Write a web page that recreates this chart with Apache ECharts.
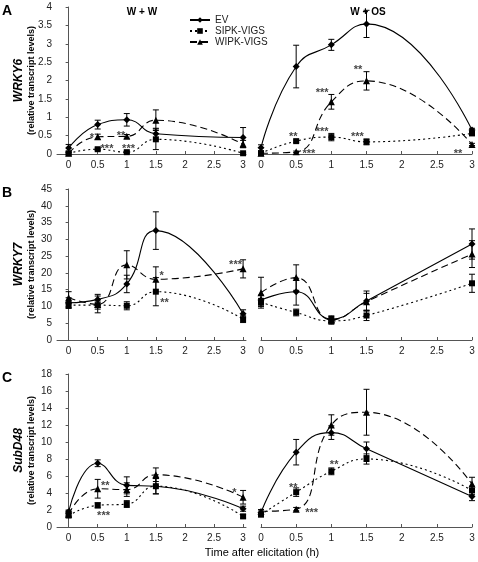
<!DOCTYPE html>
<html>
<head>
<meta charset="utf-8">
<script src="https://cdn.jsdelivr.net/npm/echarts@6/dist/echarts.min.js"></script>
<style>html,body{margin:0;padding:0;background:#fff}#c{width:478px;height:562px}</style>
</head>
<body>
<div id="c"></div>
<script>
// ---- data ----
const times = [0, 0.5, 1, 1.5, 3];
const xTicks = [0, 0.5, 1, 1.5, 2, 2.5, 3];
const seriesNames = ['EV', 'SIPK-VIGS', 'WIPK-VIGS'];
const genes = ['WRKY6', 'WRKY7', 'SubD48'];
const panelLetters = ['A', 'B', 'C'];
const treatments = ['W + W', 'W + OS'];
const yMax = [4, 45, 18];
const yStep = [0.5, 5, 2];

// WRKY6, W + W
const A_WW_EV = [0.16, 0.80, 0.93, 0.55, 0.45];
const A_WW_EV_err = [0.10, 0.12, 0.17, 0.15, 0.27];
const A_WW_SIPK = [0.02, 0.13, 0.05, 0.40, 0.02];
const A_WW_SIPK_err = [0.02, 0.03, 0.03, 0.28, 0.02];
const A_WW_WIPK = [0.02, 0.47, 0.48, 0.92, 0.27];
const A_WW_WIPK_err = [0.03, 0.07, 0.05, 0.28, 0.10];
const A_WW_sig = [['*', 0.40, 0.52], ['**', 0.90, 0.56], ['***', 0.66, 0.22], ['***', 1.03, 0.22]];
// WRKY6, W + OS
const A_OS_EV = [0.17, 2.38, 2.97, 3.54, 0.65];
const A_OS_EV_err = [0.08, 0.58, 0.15, 0.37, 0.05];
const A_OS_SIPK = [0.02, 0.35, 0.46, 0.33, 0.56];
const A_OS_SIPK_err = [0.02, 0.03, 0.10, 0.08, 0.05];
const A_OS_WIPK = [0.02, 0.06, 1.42, 1.99, 0.26];
const A_OS_WIPK_err = [0.02, 0.02, 0.20, 0.25, 0.03];
const A_OS_sig = [['**', 0.46, 0.54], ['***', 0.68, 0.08], ['***', 0.87, 1.74], ['***', 0.87, 0.67], ['**', 1.38, 2.38], ['***', 1.37, 0.54], ['**', 2.80, 0.09]];

// WRKY7, W + W
const B_WW_EV = [11.1, 12.1, 16.7, 32.6, 7.8];
const B_WW_EV_err = [1.5, 1.5, 2.6, 5.6, 1.2];
const B_WW_SIPK = [10.4, 10.4, 10.2, 14.4, 6.2];
const B_WW_SIPK_err = [1.0, 1.2, 1.2, 4.2, 1.0];
const B_WW_WIPK = [12.6, 10.6, 22.4, 18.1, 21.2];
const B_WW_WIPK_err = [1.8, 2.5, 4.2, 3.7, 2.7];
const B_WW_sig = [['*', 1.60, 19.9], ['**', 1.65, 11.9], ['***', 2.87, 23.4]];
// WRKY7, W + OS
const B_OS_EV = [11.9, 14.4, 6.2, 11.6, 28.6];
const B_OS_EV_err = [1.5, 4.0, 1.0, 3.0, 4.5];
const B_OS_SIPK = [11.2, 8.2, 5.7, 7.3, 16.9];
const B_OS_SIPK_err = [1.2, 1.0, 1.0, 1.5, 2.7];
const B_OS_WIPK = [14.1, 18.6, 6.0, 11.4, 25.6];
const B_OS_WIPK_err = [4.6, 3.8, 1.0, 2.5, 4.0];
const B_OS_sig = [];

// SubD48, W + W
const C_WW_EV = [1.8, 7.5, 4.9, 4.8, 2.15];
const C_WW_EV_err = [0.2, 0.4, 1.0, 0.9, 0.3];
const C_WW_SIPK = [1.35, 2.55, 2.7, 4.8, 1.25];
const C_WW_SIPK_err = [0.2, 0.3, 0.4, 0.9, 0.2];
const C_WW_WIPK = [1.5, 4.5, 4.4, 6.15, 3.5];
const C_WW_WIPK_err = [0.2, 1.1, 0.8, 0.8, 0.8];
const C_WW_sig = [['**', 0.63, 5.2], ['***', 0.60, 1.6], ['*', 2.85, 4.3]];
// SubD48, W + OS
const C_OS_EV = [1.7, 8.8, 11.1, 9.2, 3.6];
const C_OS_EV_err = [0.3, 1.5, 0.8, 0.8, 0.5];
const C_OS_SIPK = [1.45, 4.1, 6.55, 8.0, 4.3];
const C_OS_SIPK_err = [0.2, 0.5, 0.4, 0.6, 0.5];
const C_OS_WIPK = [1.85, 2.1, 12.0, 13.5, 5.05];
const C_OS_WIPK_err = [0.2, 0.2, 1.2, 2.7, 0.8];
const C_OS_sig = [['**', 0.46, 5.0], ['***', 0.72, 1.95], ['**', 1.04, 7.6]];

// ---- layout / style ----
const FONT = 'Liberation Sans, Arial, sans-serif';
const panels = [
  [[A_WW_EV, A_WW_EV_err, A_WW_SIPK, A_WW_SIPK_err, A_WW_WIPK, A_WW_WIPK_err, A_WW_sig],
   [A_OS_EV, A_OS_EV_err, A_OS_SIPK, A_OS_SIPK_err, A_OS_WIPK, A_OS_WIPK_err, A_OS_sig]],
  [[B_WW_EV, B_WW_EV_err, B_WW_SIPK, B_WW_SIPK_err, B_WW_WIPK, B_WW_WIPK_err, B_WW_sig],
   [B_OS_EV, B_OS_EV_err, B_OS_SIPK, B_OS_SIPK_err, B_OS_WIPK, B_OS_WIPK_err, B_OS_sig]],
  [[C_WW_EV, C_WW_EV_err, C_WW_SIPK, C_WW_SIPK_err, C_WW_WIPK, C_WW_WIPK_err, C_WW_sig],
   [C_OS_EV, C_OS_EV_err, C_OS_SIPK, C_OS_SIPK_err, C_OS_WIPK, C_OS_WIPK_err, C_OS_sig]]
];
const rowTop = [7, 189, 374];
const rowH = [147, 151, 153];
const colLeft = [57, 261];
const colW = [189, 211];
const colMin = [-0.2, 0];
const colMax = [3.05, 3];
const styles = [
  {symbol: 'diamond', size: 7, type: 'solid'},
  {symbol: 'rect', size: 6, type: [2, 3]},
  {symbol: 'triangle', size: 7, type: [7, 4]}
];

const grid = [], xAxis = [], yAxis = [], series = [];
panels.forEach((row, r) => {
  row.forEach((p, c) => {
    const gi = grid.length;
    grid.push({left: colLeft[c], top: rowTop[r], width: colW[c], height: rowH[r]});
    xAxis.push({
      type: 'value', gridIndex: gi, min: colMin[c], max: colMax[c],
      axisLine: {show: true, onZero: false, lineStyle: {color: '#555', width: 1}},
      axisTick: {show: true, inside: true, length: 3, customValues: xTicks, lineStyle: {color: '#555'}},
      axisLabel: {show: true, customValues: xTicks, fontSize: 10, fontFamily: FONT, color: '#222', margin: 6,
                  formatter: v => String(v)},
      splitLine: {show: false}
    });
    yAxis.push({
      type: 'value', gridIndex: gi, min: 0, max: yMax[r], interval: yStep[r],
      show: c === 0,
      axisLine: {show: c === 0, lineStyle: {color: '#555', width: 1}},
      axisTick: {show: true, length: 3, lineStyle: {color: '#555'}},
      axisLabel: {fontSize: 10, fontFamily: FONT, color: '#222', margin: 5},
      splitLine: {show: false}
    });
    for (let s = 0; s < 3; s++) {
      const vals = p[s * 2], errs = p[s * 2 + 1];
      const st = styles[s];
      series.push({
        type: 'line', name: seriesNames[s], xAxisIndex: gi, yAxisIndex: gi,
        data: times.map((t, i) => [t, vals[i]]),
        smooth: 0.5, symbol: st.symbol, symbolSize: st.size, showSymbol: true,
        lineStyle: {color: '#000', width: 1.1, type: st.type},
        itemStyle: {color: '#000'}, z: 3
      });
      series.push({
        type: 'custom', name: seriesNames[s] + ' err', xAxisIndex: gi, yAxisIndex: gi,
        data: times.map((t, i) => [t, vals[i], errs[i]]),
        renderItem: (params, api) => {
          const x = api.value(0), y = api.value(1), e = api.value(2);
          const top = api.coord([x, y + e]);
          const bot = api.coord([x, Math.max(0, y - e)]);
          const w = 3;
          const st = {stroke: '#000', lineWidth: 1};
          return {type: 'group', children: [
            {type: 'line', shape: {x1: top[0], y1: top[1], x2: bot[0], y2: bot[1]}, style: st},
            {type: 'line', shape: {x1: top[0] - w, y1: top[1], x2: top[0] + w, y2: top[1]}, style: st},
            {type: 'line', shape: {x1: bot[0] - w, y1: bot[1], x2: bot[0] + w, y2: bot[1]}, style: st}
          ]};
        },
        z: 2, silent: true
      });
    }
    const sig = p[6];
    if (sig.length) {
      series.push({
        type: 'scatter', name: 'sig', xAxisIndex: gi, yAxisIndex: gi,
        data: sig.map(d => [d[1], d[2], d[0]]),
        symbolSize: 1, itemStyle: {color: 'rgba(0,0,0,0)'},
        label: {show: true, position: 'inside', formatter: q => q.data[2], color: '#111',
                fontSize: 11, fontWeight: 'bold', fontFamily: FONT, offset: [0, 3]},
        silent: true, z: 4
      });
    }
  });
});

const graphic = [];
panelLetters.forEach((L, r) => {
  graphic.push({type: 'text', left: 2, top: rowTop[r] - 3,
    style: {text: L, font: 'bold 14px ' + FONT, fill: '#000'}});
  const cy = rowTop[r] + rowH[r] / 2;
  graphic.push({type: 'text', x: 19, y: cy, rotation: Math.PI / 2,
    style: {text: genes[r], font: 'italic bold 12px ' + FONT, fill: '#000', align: 'center', verticalAlign: 'middle'}});
  graphic.push({type: 'text', x: 32, y: cy, rotation: Math.PI / 2,
    style: {text: '(relative transcript levels)', font: 'bold 9px ' + FONT, fill: '#000', align: 'center', verticalAlign: 'middle'}});
});
graphic.push({type: 'text', x: 142, y: 12, style: {text: treatments[0], font: 'bold 10px ' + FONT, fill: '#000', align: 'center', verticalAlign: 'middle'}});
graphic.push({type: 'text', x: 368, y: 12, style: {text: treatments[1], font: 'bold 10px ' + FONT, fill: '#000', align: 'center', verticalAlign: 'middle'}});
graphic.push({type: 'text', x: 262, y: 553, style: {text: 'Time after elicitation (h)', font: '11px ' + FONT, fill: '#000', align: 'center', verticalAlign: 'middle'}});

const chart = echarts.init(document.getElementById('c'), null, {renderer: 'canvas'});
chart.setOption({
  animation: false,
  backgroundColor: '#fff',
  grid, xAxis, yAxis, series, graphic,
  legend: {
    data: seriesNames, orient: 'vertical', left: 184, top: 10, itemWidth: 20, itemHeight: 7, itemGap: 1,
    textStyle: {fontSize: 10, fontFamily: FONT, color: '#222', lineHeight: 10}, selectedMode: false
  }
});
</script>
</body>
</html>
